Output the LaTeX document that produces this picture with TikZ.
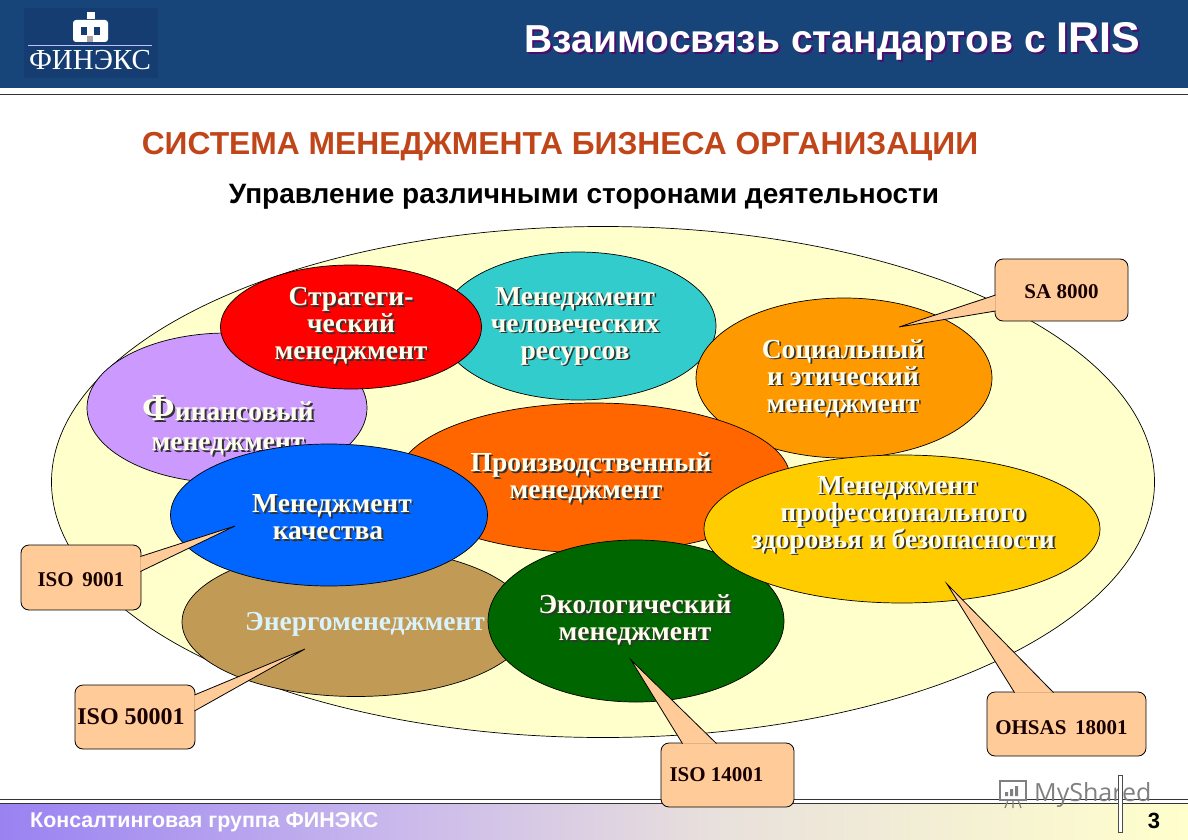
\documentclass[tikz,border=0pt]{standalone}
\usepackage{fontspec}
\setmainfont{Liberation Serif}
\newfontfamily\headfont{Liberation Sans}
\newfontfamily\markfont{Open Sans}
\usetikzlibrary{shapes.geometric,calc}

\definecolor{barblue}{HTML}{17457A}
\definecolor{logoblue}{HTML}{163D72}
\definecolor{creamfill}{HTML}{FFFFCC}
\definecolor{boxfill}{HTML}{FFCC99}
\definecolor{orgtitle}{HTML}{C0461A}
\definecolor{textcream}{HTML}{FFFFEE}
\definecolor{titleshade}{HTML}{4B0E6E}
\definecolor{footleft}{HTML}{9A82F2}
\definecolor{footmid}{HTML}{C9B8EC}
\definecolor{footpale}{HTML}{E8E0DC}
\definecolor{financecol}{HTML}{CC99FF}
\definecolor{peoplecol}{HTML}{33CCCC}
\definecolor{socialcol}{HTML}{FF9900}
\definecolor{productioncol}{HTML}{FF6600}
\definecolor{qualitycol}{HTML}{0066FF}
\definecolor{energycol}{HTML}{C19A55}
\definecolor{ecologycol}{HTML}{006600}
\definecolor{healthcol}{HTML}{FFCC00}

\pgfdeclarehorizontalshading{footbar}{100bp}{color(0bp)=(footleft); color(25bp)=(footleft); color(41.5bp)=(footmid); color(55bp)=(footpale); color(75bp)=(creamfill); color(100bp)=(creamfill)}

\tikzset{
  blob/.style={ellipse, draw=black, line width=0.7pt, inner sep=0pt},
  blobtext/.style={font=\bfseries\fontsize{27.5}{27}\selectfont, align=center, inner sep=0pt, text=textcream},
  shadowtext/.style={font=\bfseries\fontsize{27.5}{27}\selectfont, align=center, inner sep=0pt, text=black!80},
  normbox/.style={draw=black, line width=0.8pt, fill=boxfill, rounded corners=8pt, inner sep=0pt, font=\bfseries\fontsize{21}{22}\selectfont, text=black!90!red},
  normtip/.style={draw=black, line width=0.8pt, fill=boxfill},
  headtext/.style={font=\headfont\bfseries, inner sep=0pt}
}

% text with a dark copy behind it
\newcommand{\shtext}[3]{
  \node[shadowtext] (#1sh) at ($(#2)+(1.8,1.8)$) {#3};
  \node[blobtext] (#1) at (#2) {#3};
}

\begin{document}
\begin{tikzpicture}[x=1pt,y=-1pt]
    \useasboundingbox (0,0) rectangle (1188,840);

    % Top bar
    \fill[barblue] (0,0) rectangle (1188,88);
    \fill[logoblue] (24,8) rectangle (158,78);
    \fill[white] (87,12) rectangle (95,19);
    \fill[white, rounded corners=3pt] (73,20) -- (108,20) -- (108,42) -- (73,42) -- cycle;
    \fill[logoblue] (81,27) rectangle (87,35);
    \fill[logoblue] (94,27) rectangle (100,35);
    \fill[black!35] (87,36) rectangle (93,42);
    \draw[blue!25, line width=1.2pt] (28,45.5) -- (152,45.5);
    \node[inner sep=0pt, text=white, font=\fontsize{29}{30}\selectfont] (logo) at (90,60) {ФИНЭКС};
    \draw[black!80, line width=1.2pt] (0,94.5) -- (1188,94.5);

    % Title
    \node[headtext, text=titleshade, font=\headfont\bfseries\fontsize{39}{40}\selectfont] (titlesh) at (834.5,43.5) {Взаимосвязь стандартов с \fontsize{43}{40}\selectfont IRIS};
    \node[headtext, text=white, font=\headfont\bfseries\fontsize{39}{40}\selectfont] (title) at (832.5,41.5) {Взаимосвязь стандартов с \fontsize{43}{40}\selectfont IRIS};
    \node[headtext, text=orgtitle, font=\headfont\bfseries\fontsize{31.8}{33}\selectfont] (orgline) at (560,147) {СИСТЕМА МЕНЕДЖМЕНТА БИЗНЕСА ОРГАНИЗАЦИИ};
    \node[headtext, font=\headfont\bfseries\fontsize{28}{30}\selectfont] (subline) at (584,197) {Управление различными сторонами деятельности};

    % Footer
    \shade[shading=footbar] (0,803) rectangle (1188,840);
    \draw[black!80, line width=1pt] (0,799.5) -- (1188,799.5);
    \draw[black!80, line width=0.8pt] (0,803) -- (1188,803);
    \node[headtext, text=white, font=\headfont\bfseries\fontsize{21.4}{23}\selectfont, anchor=west] (group) at (30,822) {Консалтинговая группа ФИНЭКС};
    \node[headtext, font=\headfont\bfseries\fontsize{22}{24}\selectfont] (page) at (1154,821) {3};

    % Large field
    \node[blob, fill=creamfill, minimum width=1103pt, minimum height=511pt] (field) at (603,482) {};

    % Management areas
    \node[blob, fill=financecol, minimum width=280pt, minimum height=150pt] (finance) at (227,408) {};
    \node[shadowtext] (financetxtsh) at (230,427) {{\fontsize{38}{27}\selectfont Ф}инансовый\\[3pt]менеджмент};
    \node[blobtext] (financetxt) at (228,425) {{\fontsize{38}{27}\selectfont Ф}инансовый\\[3pt]менеджмент};

    \node[blob, fill=peoplecol, minimum width=276pt, minimum height=148pt] (people) at (578,326) {};
    \shtext{peopletxt}{575,326}{Менеджмент\\человеческих\\ресурсов}

    \node[blob, fill=red, minimum width=261pt, minimum height=124pt] (strategy) at (351,327) {};
    \shtext{strategytxt}{351,326}{Стратеги-\\ческий\\менеджмент}

    \node[blob, fill=socialcol, minimum width=296pt, minimum height=160pt] (social) at (844,378) {};
    \shtext{socialtxt}{843,378}{Социальный\\и этический\\менеджмент}

    \node[blob, fill=productioncol, minimum width=392pt, minimum height=150pt] (production) at (594,478) {};
    \shtext{productiontxt}{591,478}{Производственный\\менеджмент\hspace*{10pt}}

    \node[blob, fill=energycol, minimum width=348pt, minimum height=149pt] (energy) at (356,622) {};
    \node[blobtext, text=cyan!15!white, inner sep=0pt] (energytxt) at (365,624) {Энергоменеджмент};

    \node[blob, fill=qualitycol, minimum width=317pt, minimum height=142pt] (quality) at (329,515) {};
    \shtext{qualitytxt}{330,517}{\hspace*{4pt}Менеджмент\\качества\hspace*{4pt}}

    \node[blob, fill=ecologycol, minimum width=296pt, minimum height=162pt] (ecology) at (636,621) {};
    \shtext{ecologytxt}{635,620}{Экологический\\менеджмент}

    \node[blob, fill=healthcol, minimum width=396pt, minimum height=148pt] (health) at (902,529) {};
    \shtext{healthtxt}{903,515}{Менеджмент\hspace*{12pt}\\профессионального\\здоровья и безопасности}

    % Standards
    \node[normbox, minimum width=133pt, minimum height=62pt] (sa) at (1061.5,290) {\rule{0pt}{18pt}SA 8000};
    \coordinate (satip) at (899,327);
    \draw[normtip] ($(sa.west)+(1,5)$) -- (satip) -- ($(sa.west)+(1,21)$);

    \node[normbox, minimum width=120pt, minimum height=65pt] (iso9) at (81,577.5) {\rule{0pt}{18pt}ISO\, 9001};
    \coordinate (iso9tip) at (235,526);
    \draw[normtip] ($(iso9.east)+(-1,-21)$) -- (iso9tip) -- ($(iso9.east)+(-1,-6)$);

    \node[normbox, minimum width=120pt, minimum height=64pt, font=\bfseries\fontsize{24}{25}\selectfont] (iso50) at (135,717) {\hspace*{-8pt}ISO 50001};
    \coordinate (iso50tip) at (305,649);
    \draw[normtip] ($(iso50.east)+(-1,-22)$) -- (iso50tip) -- ($(iso50.east)+(-1,-6)$);

    \node[normbox, minimum width=133pt, minimum height=64pt] (iso14) at (727.5,775) {ISO 14001\hspace*{22pt}};
    \coordinate (iso14tip) at (631,660);
    \draw[normtip] ($(iso14.north)+(-45,1)$) -- (iso14tip) -- ($(iso14.north)+(-11,1)$);

    \node[normbox, minimum width=159pt, minimum height=64pt] (ohsas) at (1066.5,724) {\rule{0pt}{21pt}OHSAS\, 18001\hspace*{10pt}};
    \coordinate (ohsastip) at (947,584);
    \draw[normtip] ($(ohsas.north)+(-52,1)$) -- (ohsastip) -- ($(ohsas.north)+(-13,1)$);

    % Watermark
    \node[inner sep=0pt, text=black!50, font=\markfont\fontsize{25}{28}\selectfont, anchor=west] (mark) at (1034,795) {MyShared};
    \draw[black!50, line width=1.2pt] (1000,781) rectangle (1026,800);
    \fill[black!50] (1005,796) rectangle (1008,792) (1010,796) rectangle (1013,789) (1015,796) rectangle (1018,786);
    \draw[black!50, line width=1.2pt] (1008,800) -- (1005,808) (1018,800) -- (1021,808) (1013,800) -- (1013,808);
    \draw[black!70, fill=white, line width=0.6pt] (1118,775) rectangle (1122,832);
\end{tikzpicture}
\end{document}
